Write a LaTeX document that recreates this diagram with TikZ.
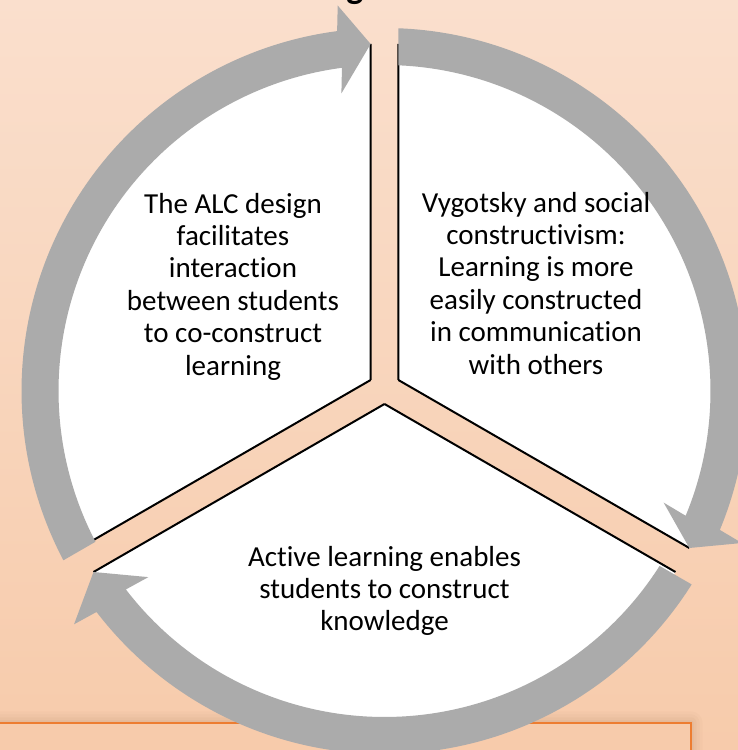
\documentclass[tikz,border=0pt]{standalone}
\usepackage{fontspec}
\setmainfont[Ligatures=NoCommon]{Carlito}
\usetikzlibrary{calc}
\definecolor{bgtop}{HTML}{FADFCD}
\definecolor{bgbot}{HTML}{F7CBAB}
\definecolor{arrowgray}{HTML}{ABABAB}
\definecolor{boxorange}{HTML}{ED7D31}
\definecolor{boxshadow}{HTML}{B98A6A}

\begin{document}
\begin{tikzpicture}[x=1pt, y=1pt,
  segtext/.style={align=center, inner sep=0pt, font=\fontsize{29}{32.4}\selectfont},
  gapline/.style={line width=2pt, black},
  band/.style={fill=arrowgray}]
  \useasboundingbox (0,0) rectangle (738,750);
  \clip (0,0) rectangle (738,750);
  \shade[top color=bgtop, bottom color=bgbot] (0,0) rectangle (738,750);
  \node[anchor=base, inner sep=0pt, font=\fontsize{36}{40}\selectfont\bfseries] (title) at (355,751) {g};

  \foreach \s/\o in {12/0.05, 9/0.06, 6/0.08, 3/0.1}
    \fill[boxshadow, opacity=\o, rounded corners=\s] (-40,-40) rectangle (690.7+\s, 26.7+\s);
  \draw[boxorange, line width=2pt, fill=bgbot] (-10,-20) rectangle (690.7,26.7);

  \coordinate (tl) at (370.64,370);
  \coordinate (tr) at (398.36,370);
  \coordinate (bt) at (384.5,346);
  \coordinate (ca) at (384.5,359);

  \fill[white] (tl) -- +(90:336) arc[start angle=90, end angle=210, radius=336] -- cycle;
  \fill[white] (tr) -- +(-30:336) arc[start angle=-30, end angle=90, radius=336] -- cycle;
  \fill[white] (bt) -- +(210:336) arc[start angle=210, end angle=330, radius=336] -- cycle;
  \draw[gapline] (tl) -- +(90:336) (tl) -- +(210:336);
  \draw[gapline] (tr) -- +(90:336) (tr) -- +(-30:336);
  \draw[gapline] (bt) -- +(210:336) (bt) -- +(-30:336);

  \fill[band] ($(ca)+(87.8:363)$) arc[start angle=87.8, end angle=-22.5, radius=363]
    -- ($(ca)+(-22.5:344.5)+(-27.3:44)$) -- ($(tr)+(-30:336)$)
    -- ($(ca)+(-22.5:344.5)+(152.7:44)$) -- ($(ca)+(-22.5:326)$)
    arc[start angle=-22.5, end angle=87.55, radius=326] -- cycle;
  \fill[band] ($(ca)+(-32.2:363)$) arc[start angle=-32.2, end angle=-142.5, radius=363]
    -- ($(ca)+(-142.5:344.5)+(-147.6:44)$) -- ($(bt)+(210:336)$)
    -- ($(ca)+(-142.5:344.5)+(32.4:44)$) -- ($(ca)+(-142.5:326)$)
    arc[start angle=-142.5, end angle=-32.45, radius=326] -- cycle;
  \fill[band] ($(ca)+(207.8:363)$) arc[start angle=207.8, end angle=97.5, radius=363]
    -- ($(ca)+(97.5:344.5)+(92.4:44)$) -- ($(tl)+(90:336)$)
    -- ($(ca)+(97.5:344.5)+(272.4:44)$) -- ($(ca)+(97.5:326)$)
    arc[start angle=97.5, end angle=207.55, radius=326] -- cycle;

  \node[segtext] (alc) at (233,463.4) {The ALC design\\facilitates\\interaction\\between students\\to co-construct\\learning};
  \node[segtext] (vygotsky) at (536,466.9) {Vygotsky and social\\constructivism:\\Learning is more\\easily constructed\\in communication\\with others};
  \node[segtext] (active) at (384.5,159) {Active learning enables\\students to construct\\knowledge};
\end{tikzpicture}
\end{document}
